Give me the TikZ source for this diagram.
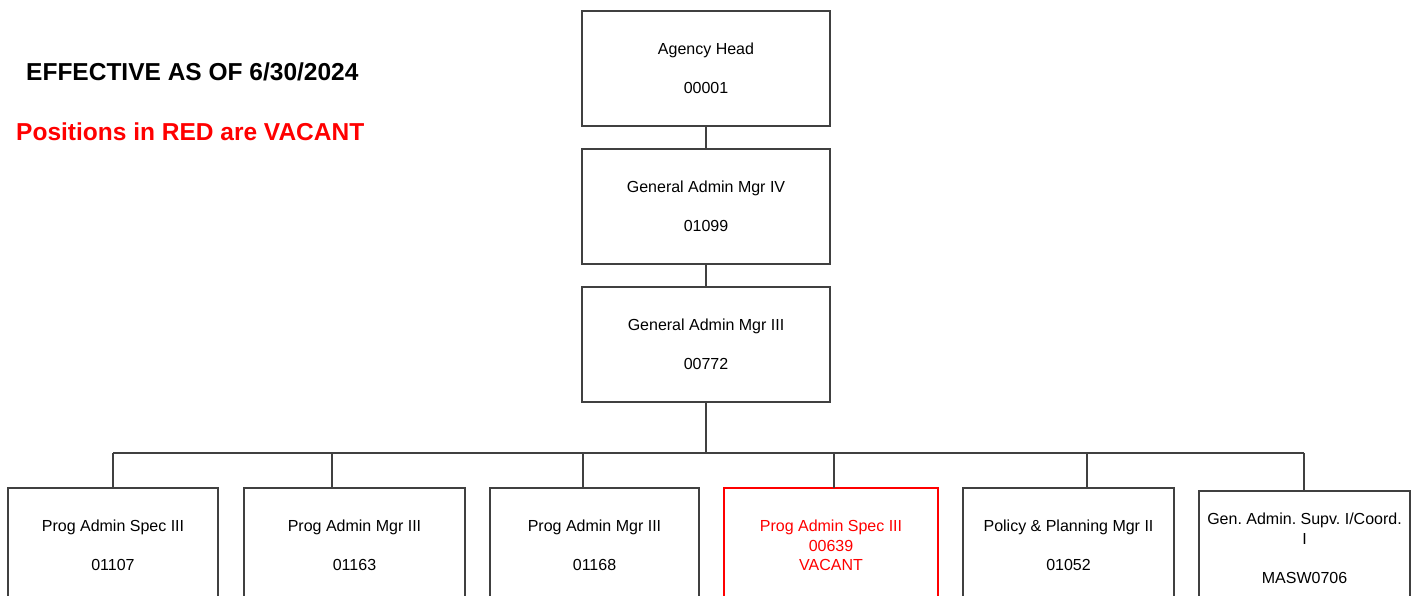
\documentclass[tikz,border=0pt]{standalone}
\usepackage{fontspec}
\setmainfont{Liberation Sans}
\usetikzlibrary{positioning}
\definecolor{BoxGray}{HTML}{404040}
\definecolor{VacRed}{HTML}{FF0000}

\begin{document}
\frenchspacing
\begin{tikzpicture}[x=1pt,y=-1pt,node distance=23pt]
\tikzset{post/.style={draw=BoxGray,line width=1.5pt,outer sep=0pt,minimum width=248pt,minimum height=115pt,inner sep=0pt,align=center,font=\fontsize{16}{19.5}\selectfont},vacant/.style={post,draw=VacRed,text=VacRed,line width=1.2pt},link/.style={BoxGray,line width=1.5pt}}
\useasboundingbox[fill=white] (0,0) rectangle (1412,595);
\clip (0,0) rectangle (1412,595);
\node[anchor=base west,inner sep=0pt,font=\bfseries\fontsize{24.5}{28}\selectfont] (ttl) at (26,80) {EFFECTIVE AS OF 6/30/2024};
\node[anchor=base west,inner sep=0pt,text=VacRed,font=\bfseries\fontsize{24.5}{28}\selectfont] (key) at (16,140) {Positions in RED are VACANT};
\node[post,anchor=north west] (h) at (582,11) {Agency Head\\[19.5pt]00001};
\node[post,below=of h] (g4) {General Admin Mgr IV\\[19.5pt]01099};
\node[post,below=of g4] (g3) {General Admin Mgr III\\[19.5pt]00772};
\node[post,minimum width=210pt,anchor=north west] (s1) at (8,488) {Prog Admin Spec III\\[19.5pt]01107};
\node[post,minimum width=221pt,right=26pt of s1] (s2) {Prog Admin Mgr III\\[19.5pt]01163};
\node[post,minimum width=209pt,right=25pt of s2] (s3) {Prog Admin Mgr III\\[19.5pt]01168};
\node[vacant,minimum width=214pt,right=25pt of s3] (s4) {Prog Admin Spec III\\00639\\VACANT};
\node[post,minimum width=211pt,right=25pt of s4] (s5) {Policy \& Planning Mgr II\\[19.5pt]01052};
\node[post,minimum width=211pt,right=25pt of s5,yshift=-3pt] (s6) {Gen. Admin. Supv. I/Coord.\\I\\[19.5pt]MASW0706};
\coordinate (t1) at (113,453);\coordinate (t2) at (332,453);\coordinate (t3) at (583,453);
\coordinate (t4) at (834,453);\coordinate (t5) at (1087,453);\coordinate (t6) at (1304,453);
\draw[link](h)--(g4);\draw[link](g4)--(g3);\draw[link](g3)--(g3|-t1);
\draw[link](t1)--(t6);
\foreach \i in {1,...,6}{\draw[link](t\i)--(t\i|-s\i.north);}
\end{tikzpicture}
\end{document}
